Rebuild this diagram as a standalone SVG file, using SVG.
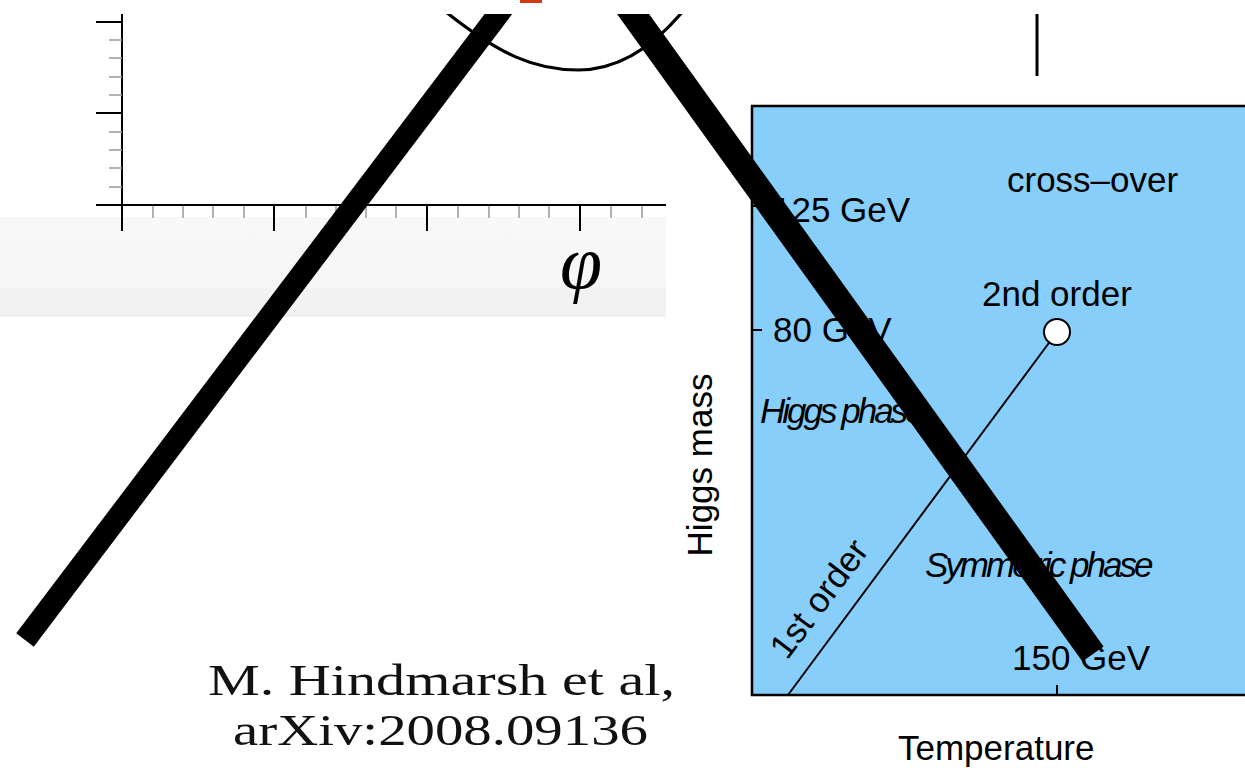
<svg xmlns="http://www.w3.org/2000/svg" width="1245" height="768" viewBox="0 0 1245 768">
  <defs>
    <style>
      .lab { font-family: "Liberation Sans", Arial, sans-serif; font-size: 35px; fill: #000; }
      .ital { font-style: italic; letter-spacing: -3px; }
      .ref { font-family: "Liberation Serif", "Times New Roman", serif; font-size: 45px; fill: #111; }
      .axis { stroke: #000; stroke-width: 2; fill: none; }
      .minor { stroke: #9a9a9a; stroke-width: 1.5; }
      .thick { stroke: #000; fill: none; }
    </style>
    <linearGradient id="band" x1="0" y1="0" x2="0" y2="1">
      <stop offset="0" stop-color="#f8f8f8"/>
      <stop offset="0.7" stop-color="#f6f6f6"/>
      <stop offset="0.72" stop-color="#f2f2f2"/>
      <stop offset="1" stop-color="#f1f1f1"/>
    </linearGradient>
    <clipPath id="below14">
      <rect x="0" y="14" width="1245" height="754"/>
    </clipPath>
  </defs>

  <rect x="0" y="0" width="1245" height="768" fill="#ffffff"/>

  <!-- red mark at top -->
  <rect id="redmark" x="520" y="0" width="22" height="3" fill="#d23a16"/>

  <!-- potential plot (top left) -->
  <g id="potential-plot" clip-path="url(#below14)">
    <rect x="0" y="217" width="666" height="100" fill="url(#band)"/>
    <!-- y axis -->
    <line class="axis" x1="122" y1="10" x2="122" y2="206"/>
    <line class="axis" x1="96" y1="22" x2="122" y2="22"/>
    <line class="axis" x1="96" y1="113" x2="122" y2="113"/>
    <g class="minor">
      <line x1="109" y1="40" x2="122" y2="40"/>
      <line x1="109" y1="58" x2="122" y2="58"/>
      <line x1="109" y1="77" x2="122" y2="77"/>
      <line x1="109" y1="95" x2="122" y2="95"/>
      <line x1="109" y1="132" x2="122" y2="132"/>
      <line x1="109" y1="150" x2="122" y2="150"/>
      <line x1="109" y1="168" x2="122" y2="168"/>
      <line x1="109" y1="187" x2="122" y2="187"/>
    </g>
    <!-- x axis -->
    <line class="axis" x1="96" y1="205" x2="666" y2="205"/>
    <line class="axis" x1="122" y1="205" x2="122" y2="231"/>
    <line class="axis" x1="274" y1="205" x2="274" y2="231"/>
    <line class="axis" x1="427" y1="205" x2="427" y2="231"/>
    <line class="axis" x1="580" y1="205" x2="580" y2="231"/>
    <g class="minor">
      <line x1="153" y1="206" x2="153" y2="218"/>
      <line x1="183" y1="206" x2="183" y2="218"/>
      <line x1="213" y1="206" x2="213" y2="218"/>
      <line x1="244" y1="206" x2="244" y2="218"/>
      <line x1="306" y1="206" x2="306" y2="218"/>
      <line x1="336" y1="206" x2="336" y2="218"/>
      <line x1="366" y1="206" x2="366" y2="218"/>
      <line x1="396" y1="206" x2="396" y2="218"/>
      <line x1="458" y1="206" x2="458" y2="218"/>
      <line x1="489" y1="206" x2="489" y2="218"/>
      <line x1="519" y1="206" x2="519" y2="218"/>
      <line x1="549" y1="206" x2="549" y2="218"/>
      <line x1="611" y1="206" x2="611" y2="218"/>
      <line x1="642" y1="206" x2="642" y2="218"/>
    </g>
    <!-- potential curve -->
    <path d="M 446 12 C 500 55, 535 70, 578 70 C 620 70, 655 45, 684 10" fill="none" stroke="#000" stroke-width="3.2"/>
    <text x="581" y="288" text-anchor="middle" font-family="'Liberation Serif', 'Times New Roman', serif" font-style="italic" font-size="76" fill="#000">φ</text>
  </g>

  <!-- vertical line top right -->
  <line id="top-right-bar" x1="1037" y1="14" x2="1037" y2="76" stroke="#000" stroke-width="3"/>

  <!-- phase diagram -->
  <g id="phase-diagram">
    <rect x="752" y="106" width="500" height="589" fill="#87cefa" stroke="#000" stroke-width="2.5"/>
    <line x1="752" y1="206" x2="762" y2="206" stroke="#000" stroke-width="2"/>
    <line x1="752" y1="330" x2="762" y2="330" stroke="#000" stroke-width="2"/>
    <line x1="1057" y1="685" x2="1057" y2="695" stroke="#000" stroke-width="2"/>
    <line id="first-order-line" x1="788" y1="695" x2="1057" y2="332" stroke="#000" stroke-width="2"/>
    <circle id="endpoint" cx="1057" cy="332" r="13" fill="#ffffff" stroke="#000" stroke-width="2"/>
    <text class="lab" x="1007" y="192">cross–over</text>
    <text class="lab" x="772" y="222">125 GeV</text>
    <text class="lab" x="982" y="306">2nd order</text>
    <text class="lab" x="773" y="342">80 GeV</text>
    <text class="lab ital" x="760" y="423">Higgs phase</text>
    <text class="lab ital" x="925" y="577">Symmetric phase</text>
    <text class="lab" x="1012" y="670">150 GeV</text>
    <text class="lab" transform="translate(787,661) rotate(-53)">1st order</text>
  </g>

  <g id="axis-labels">
    <text class="lab" text-anchor="middle" transform="translate(712,465) rotate(-90)">Higgs mass</text>
    <text class="lab" x="898" y="760">Temperature</text>
  </g>

  <!-- reference text -->
  <g id="reference">
    <text class="ref" x="208" y="695" textLength="467" lengthAdjust="spacingAndGlyphs">M. Hindmarsh et al,</text>
    <text class="ref" x="233" y="745" textLength="415" lengthAdjust="spacingAndGlyphs">arXiv:2008.09136</text>
  </g>

  <!-- big crossing lines -->
  <g id="connectors" clip-path="url(#below14)">
    <line class="thick" x1="25" y1="640" x2="509" y2="0" stroke-width="22"/>
    <line class="thick" x1="1093" y1="654" x2="623" y2="0" stroke-width="26"/>
  </g>
</svg>
